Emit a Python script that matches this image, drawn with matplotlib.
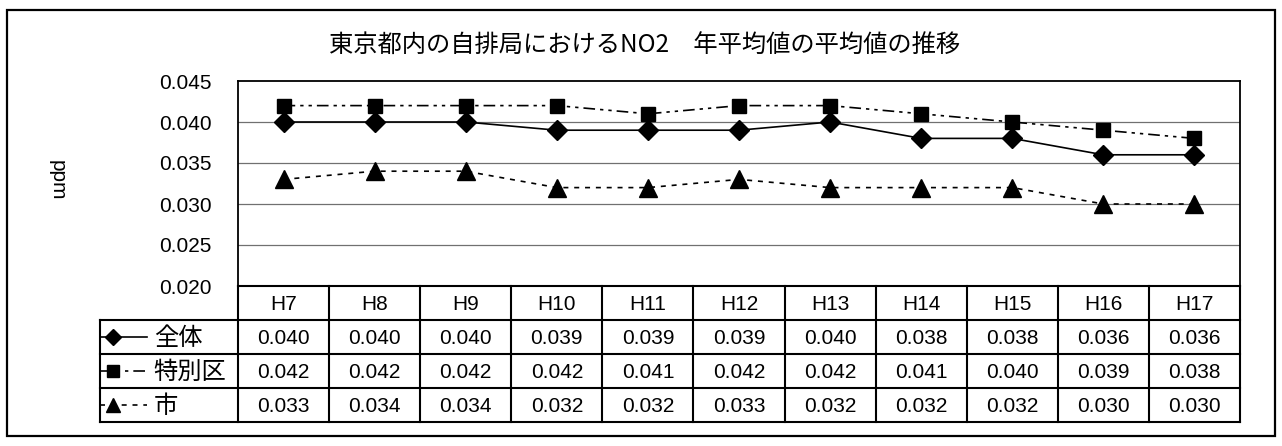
import matplotlib.pyplot as plt
from matplotlib.patches import Rectangle

plt.rcParams['font.family'] = ['Liberation Sans', 'Noto Sans CJK JP', 'DejaVu Sans']

# ============================================================
# Data
# ============================================================
years = ["H7", "H8", "H9", "H10", "H11", "H12", "H13", "H14", "H15", "H16", "H17"]
zentai = [0.040, 0.040, 0.040, 0.039, 0.039, 0.039, 0.040, 0.038, 0.038, 0.036, 0.036]
tokubetsuku = [0.042, 0.042, 0.042, 0.042, 0.041, 0.042, 0.042, 0.041, 0.040, 0.039, 0.038]
shi = [0.033, 0.034, 0.034, 0.032, 0.032, 0.033, 0.032, 0.032, 0.032, 0.030, 0.030]
series_names = ["全体", "特別区", "市"]
yticks = [0.020, 0.025, 0.030, 0.035, 0.040, 0.045]

title = "東京都内の自排局におけるNO2　年平均値の平均値の推移"

# ============================================================
# Figure
# ============================================================
W, H = 1282, 446
fig = plt.figure(figsize=(W / 100, H / 100), dpi=100)

def fx(px):
    return px / W

def fy(py):
    return 1 - py / H

fig.patches.append(Rectangle((fx(7), fy(436)), fx(1275) - fx(7), fy(10) - fy(436),
                             transform=fig.transFigure, fill=False, lw=1.6, ec="black"))

styles = [
    dict(ls="-", marker="D", ms=10),
    dict(ls=(0, (7, 3, 2, 3, 2, 3)), marker="s", ms=10),
    dict(ls=(0, (3, 3.5)), marker="^", ms=13),
]
all_series = [zentai, tokubetsuku, shi]

# plot area
x0, x1, ytop, ybot = 238, 1240, 81, 286
ax = fig.add_axes([fx(x0), fy(ybot), fx(x1) - fx(x0), fy(ytop) - fy(ybot)])
xs = range(len(years))
for vals, st in zip(all_series, styles):
    ax.plot(xs, vals, color="black", lw=1.2, ls=st["ls"], marker=st["marker"],
            ms=st["ms"], mfc="black", mec="black", zorder=3)
ax.set_xlim(-0.5, len(years) - 0.5)
ax.set_ylim(0.020, 0.045)
ax.set_yticks(yticks)
ax.set_yticklabels([f"{v:.3f}" for v in yticks], fontsize=15)
ax.tick_params(axis="y", length=0, pad=19)
ax.set_xticks([])
for v in yticks[1:-1]:
    ax.axhline(v, color="#707070", lw=0.9, zorder=1)
for s in ax.spines.values():
    s.set_linewidth(1.3)
ax.spines["bottom"].set_visible(False)

fig.text(fx(645), fy(45), title, ha="center", va="center", fontsize=17.5,
         family=['Noto Sans CJK JP', 'DejaVu Sans'])
fig.text(fx(57), fy(180), "ppm", ha="center", va="center", fontsize=15, rotation=-90)

# ============================================================
# Data table
# ============================================================
tx0, ttop, tbot = 100, 286, 422
colw = (x1 - x0) / len(years)
label_w = (x0 - tx0) / colw
tab = fig.add_axes([fx(tx0), fy(tbot), fx(x1) - fx(tx0), fy(ttop) - fy(tbot)])
tab.set_xlim(-0.5 - label_w, len(years) - 0.5)
tab.set_ylim(4, 0)
tab.axis("off")

lk = dict(color="black", lw=1.5, clip_on=False)
# horizontal lines
tab.plot([-0.5, len(years) - 0.5], [0, 0], **lk)
for r in range(1, 5):
    tab.plot([-0.5 - label_w, len(years) - 0.5], [r, r], **lk)
# vertical lines
tab.plot([-0.5 - label_w, -0.5 - label_w], [1, 4], **lk)
for c in range(len(years) + 1):
    tab.plot([c - 0.5, c - 0.5], [0, 4], **lk)

for i, yr in enumerate(years):
    tab.text(i, 0.55, yr, ha="center", va="center", fontsize=15)

for r, (name, vals, st) in enumerate(zip(series_names, all_series, styles)):
    yc = r + 1.5
    lx0 = -0.5 - label_w
    lx1 = lx0 + 0.52
    tab.plot([lx0, lx1], [yc, yc], color="black", lw=1.2, ls=st["ls"], clip_on=False)
    tab.plot([lx0 + 0.14], [yc], marker=st["marker"], ms=st["ms"] * 0.8,
             color="black", clip_on=False)
    tab.text(lx1 + 0.07, yc + 0.03, name, ha="left", va="center", fontsize=17.5,
             family=['Noto Sans CJK JP', 'DejaVu Sans'])
    for i, v in enumerate(vals):
        tab.text(i, yc + 0.03, f"{v:.3f}", ha="center", va="center", fontsize=15)

fig.savefig("out.png", dpi=100)
